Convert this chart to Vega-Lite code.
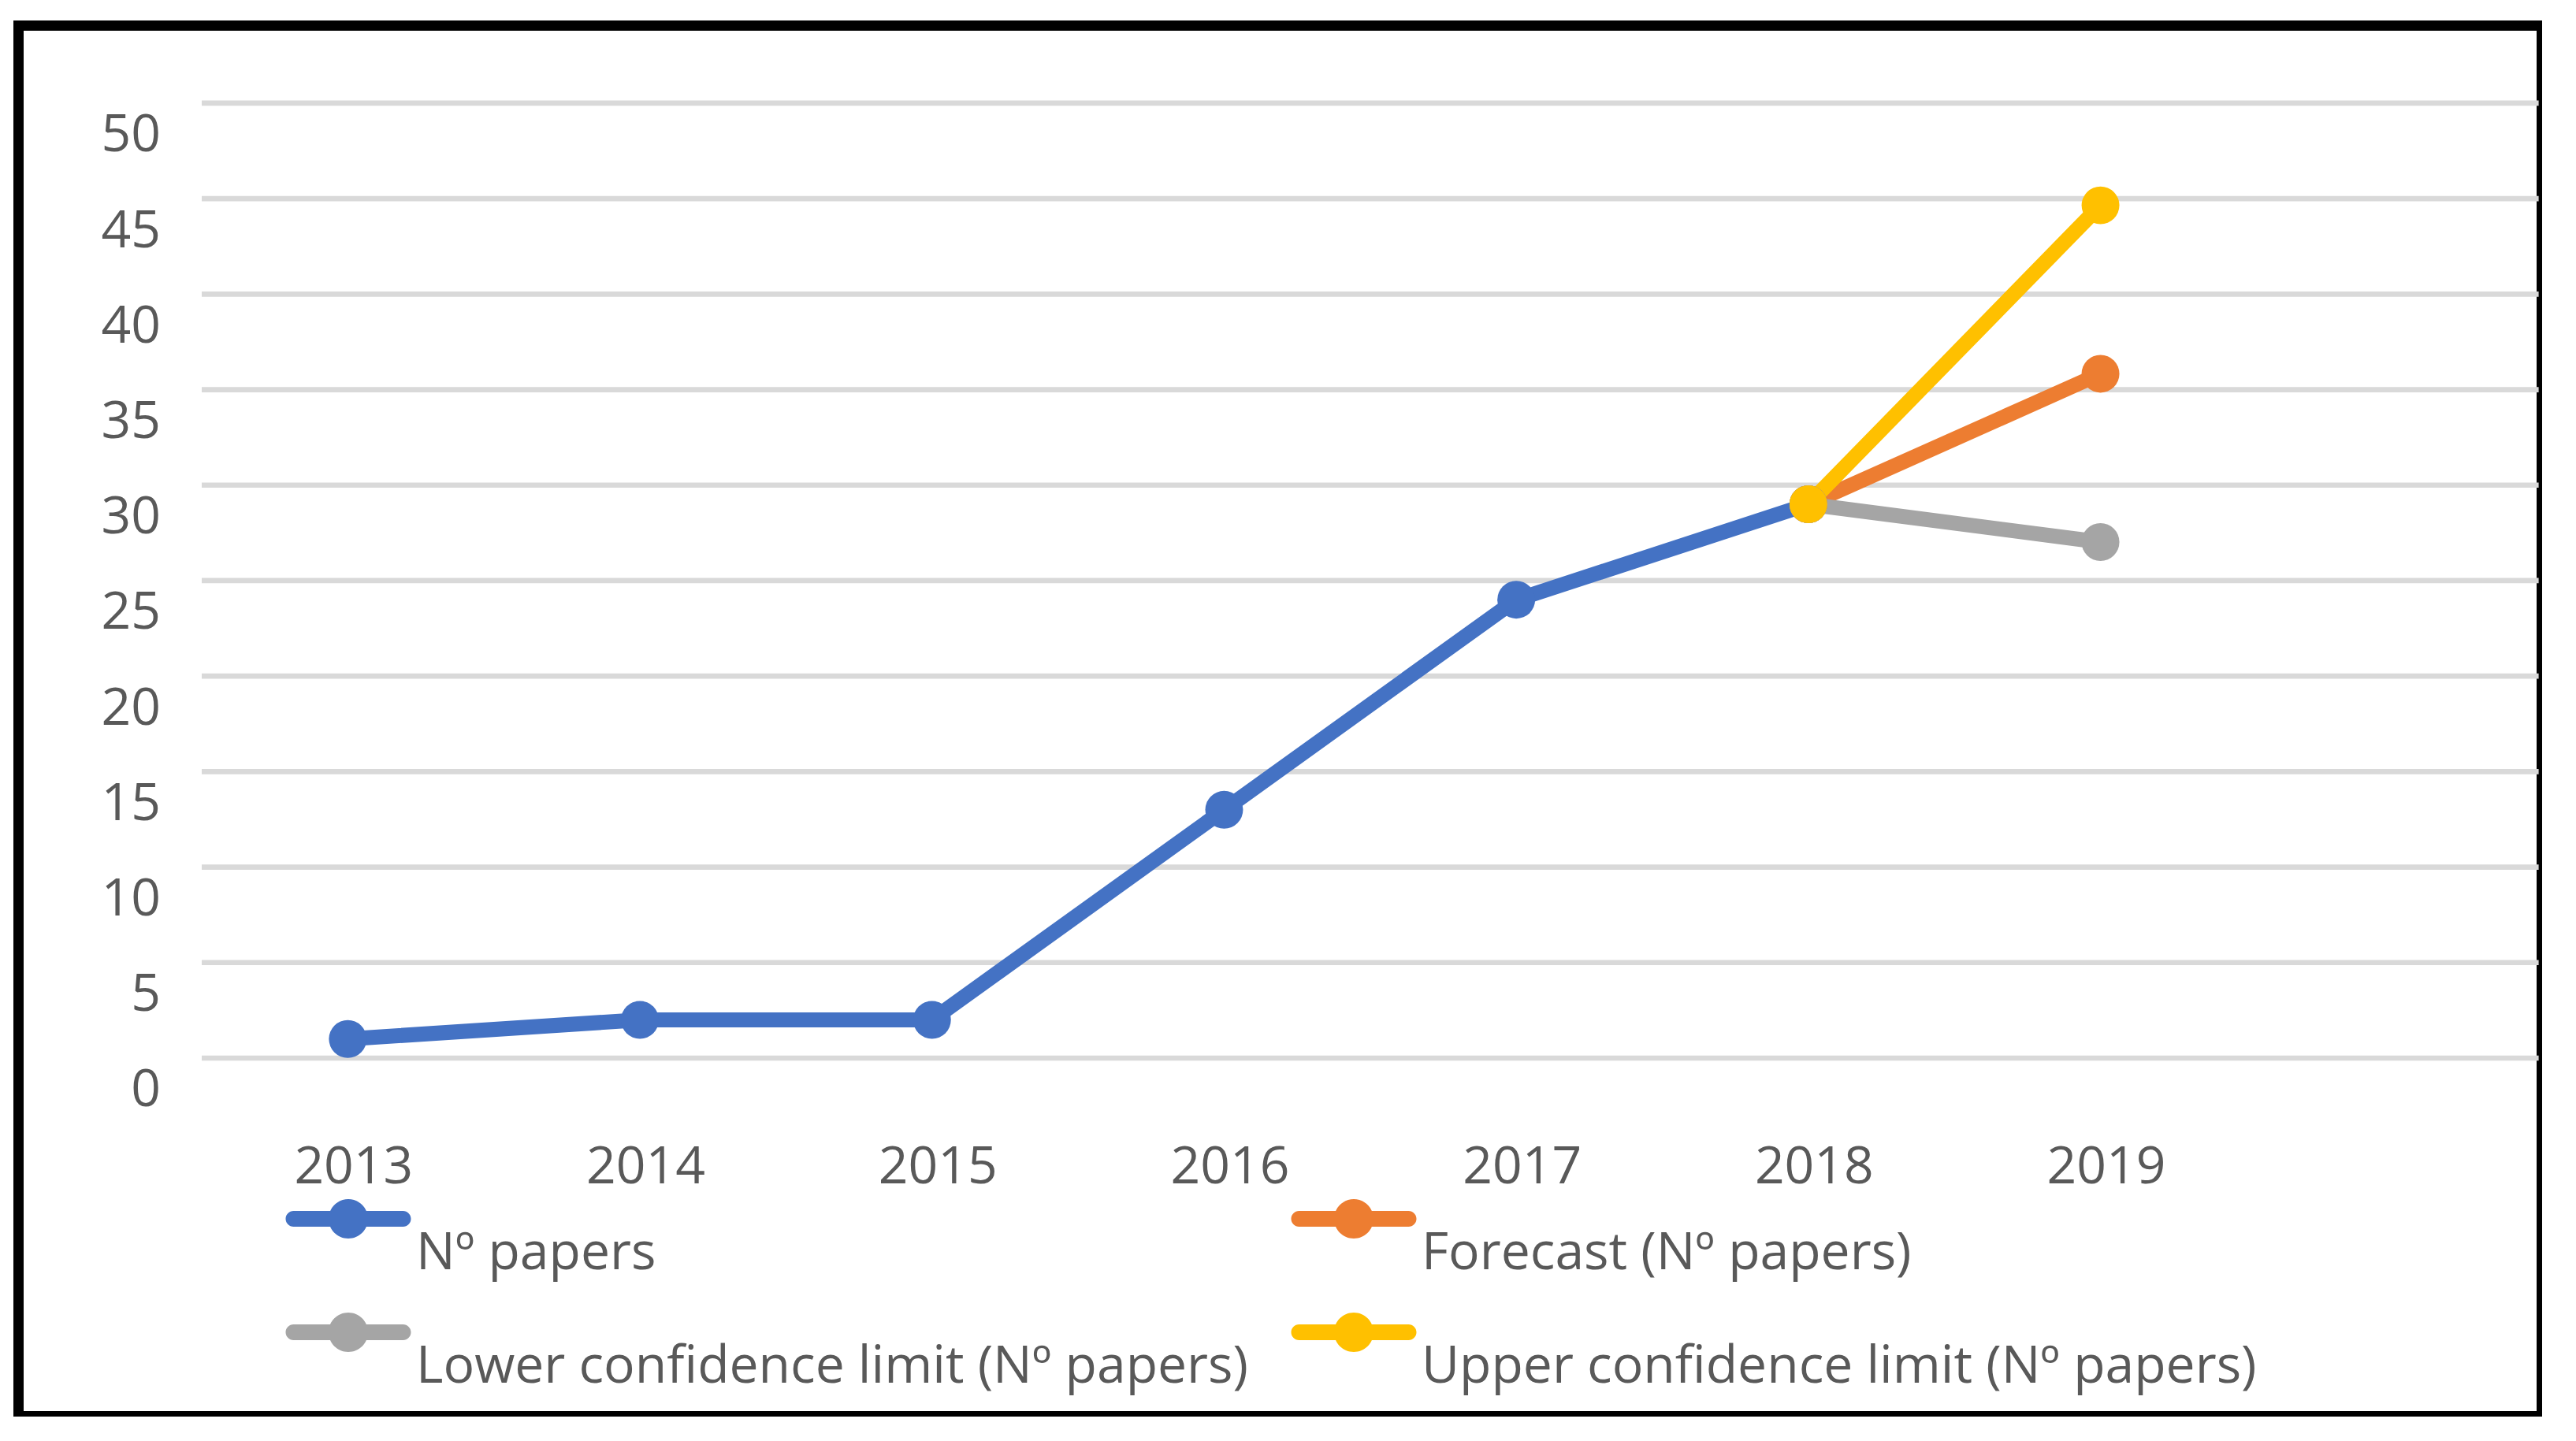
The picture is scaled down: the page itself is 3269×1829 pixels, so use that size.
{
  "$schema": "https://vega.github.io/schema/vega-lite/v6.json",
  "autosize": "none",
  "width": 3202,
  "height": 1765,
  "padding": {"left": 23.5, "top": 32.5, "right": 0, "bottom": 0},
  "background": "white",
  "config": {
    "view": {"stroke": "black", "strokeWidth": 13, "fill": "white"},
    "font": "Open Sans"
  },
  "datasets": {
    "grid": [{"g": 0}, {"g": 5}, {"g": 10}, {"g": 15}, {"g": 20}, {"g": 25}, {"g": 30}, {"g": 35}, {"g": 40}, {"g": 45}, {"g": 50}],
    "series": [
      {"year": 2013, "series": "Nº papers", "value": 1},
      {"year": 2014, "series": "Nº papers", "value": 2},
      {"year": 2015, "series": "Nº papers", "value": 2},
      {"year": 2016, "series": "Nº papers", "value": 13},
      {"year": 2017, "series": "Nº papers", "value": 24},
      {"year": 2018, "series": "Nº papers", "value": 29},
      {"year": 2018, "series": "Forecast (Nº papers)", "value": 29},
      {"year": 2019, "series": "Forecast (Nº papers)", "value": 35.83},
      {"year": 2018, "series": "Lower confidence limit (Nº papers)", "value": 29},
      {"year": 2019, "series": "Lower confidence limit (Nº papers)", "value": 27.02},
      {"year": 2018, "series": "Upper confidence limit (Nº papers)", "value": 29},
      {"year": 2019, "series": "Upper confidence limit (Nº papers)", "value": 44.65}
    ]
  },
  "layer": [
    {
      "data": {"name": "grid"},
      "mark": {"type": "rule", "stroke": "#d9d9d9", "strokeWidth": 6.7},
      "encoding": {
        "y": {"field": "g", "type": "quantitative", "scale": {"domain": [-18.75, 54.06], "nice": false, "zero": false},
          "axis": {"values": [0, 5, 10, 15, 20, 25, 30, 35, 40, 45, 50], "title": null, "grid": false, "domain": false, "ticks": false,
            "offset": -180, "labelPadding": 0, "labelAlign": "right", "labelBaseline": "middle", "labelOffset": 41,
            "labelFont": "Open Sans", "labelFontSize": 66, "labelColor": "#595959"}},
        "x": {"datum": 2012.5, "type": "quantitative", "scale": {"domain": [2011.8728, 2020.5105], "nice": false, "zero": false},
          "axis": {"values": [2013, 2014, 2015, 2016, 2017, 2018, 2019], "format": "d", "title": null, "grid": false, "domain": false, "ticks": false,
            "offset": -316, "labelPadding": 0, "labelBaseline": "middle", "labelOffset": 7,
            "labelFont": "Open Sans", "labelFontSize": 66, "labelColor": "#595959"}},
        "x2": {"datum": 2020.5}
      }
    },
    {
      "data": {"name": "series"},
      "mark": {"type": "line", "strokeWidth": 19, "strokeJoin": "round", "strokeCap": "round",
        "point": {"filled": true, "size": 2300, "opacity": 1}},
      "encoding": {
        "x": {"field": "year", "type": "quantitative"},
        "y": {"field": "value", "type": "quantitative"},
        "color": {"field": "series", "type": "nominal",
          "scale": {"domain": ["Nº papers", "Forecast (Nº papers)", "Lower confidence limit (Nº papers)", "Upper confidence limit (Nº papers)"],
            "range": ["#4472C4", "#ED7D31", "#A5A5A5", "#FFC000"]},
          "legend": {"orient": "none", "direction": "horizontal", "legendX": 368.5, "legendY": 1464.5, "columns": 2, "title": null, "padding": 0,
            "symbolType": "M-1.39,-0.2H1.39A0.2,0.2 0 0,1 1.39,0.2H-1.39A0.2,0.2 0 0,1 -1.39,-0.2Z M-0.5,0A0.5,0.5 0 1,1 0.5,0A0.5,0.5 0 1,1 -0.5,0Z",
            "symbolSize": 10000, "symbolStrokeWidth": 0, "labelOffset": 36, "labelLimit": 3000,
            "labelFont": "Open Sans", "labelFontSize": 66, "labelColor": "#595959", "labelBaseline": "middle",
            "columnPadding": 54, "rowPadding": 17,
            "encode": {
              "symbols": {"update": {"fill": {"scale": "color", "field": "value"}, "stroke": {"value": "transparent"}, "opacity": {"value": 1}}},
              "labels": {"update": {"dy": {"value": 44}}}
            }}}
      }
    }
  ]
}
